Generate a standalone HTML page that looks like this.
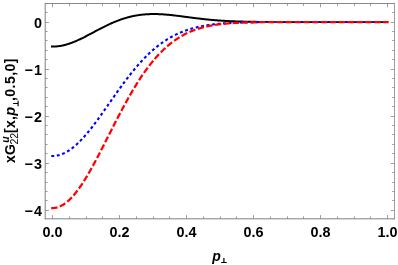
<!DOCTYPE html>
<html><head><meta charset="utf-8"><title>plot</title>
<style>html,body{margin:0;padding:0;background:#fff;overflow:hidden}svg{display:block}</style></head>
<body><svg style="will-change:transform" width="398" height="265" viewBox="0 0 398 265">
<rect x="0" y="0" width="398" height="265" fill="#fff"/>
<path d="M52.50 218.80 v-3.70 M52.50 3.50 v3.70 M69.50 218.80 v-2.40 M69.50 3.50 v2.40 M86.50 218.80 v-2.40 M86.50 3.50 v2.40 M102.50 218.80 v-2.40 M102.50 3.50 v2.40 M119.50 218.80 v-3.70 M119.50 3.50 v3.70 M136.50 218.80 v-2.40 M136.50 3.50 v2.40 M153.50 218.80 v-2.40 M153.50 3.50 v2.40 M169.50 218.80 v-2.40 M169.50 3.50 v2.40 M186.50 218.80 v-3.70 M186.50 3.50 v3.70 M203.50 218.80 v-2.40 M203.50 3.50 v2.40 M220.50 218.80 v-2.40 M220.50 3.50 v2.40 M236.50 218.80 v-2.40 M236.50 3.50 v2.40 M253.50 218.80 v-3.70 M253.50 3.50 v3.70 M270.50 218.80 v-2.40 M270.50 3.50 v2.40 M287.50 218.80 v-2.40 M287.50 3.50 v2.40 M303.50 218.80 v-2.40 M303.50 3.50 v2.40 M320.50 218.80 v-3.70 M320.50 3.50 v3.70 M337.50 218.80 v-2.40 M337.50 3.50 v2.40 M354.50 218.80 v-2.40 M354.50 3.50 v2.40 M370.50 218.80 v-2.40 M370.50 3.50 v2.40 M387.50 218.80 v-3.70 M387.50 3.50 v3.70 M45.20 210.50 h3.70 M394.50 210.50 h-3.70 M45.20 200.50 h2.40 M394.50 200.50 h-2.40 M45.20 191.50 h2.40 M394.50 191.50 h-2.40 M45.20 182.50 h2.40 M394.50 182.50 h-2.40 M45.20 172.50 h2.40 M394.50 172.50 h-2.40 M45.20 163.50 h3.70 M394.50 163.50 h-3.70 M45.20 153.50 h2.40 M394.50 153.50 h-2.40 M45.20 144.50 h2.40 M394.50 144.50 h-2.40 M45.20 134.50 h2.40 M394.50 134.50 h-2.40 M45.20 125.50 h2.40 M394.50 125.50 h-2.40 M45.20 116.50 h3.70 M394.50 116.50 h-3.70 M45.20 106.50 h2.40 M394.50 106.50 h-2.40 M45.20 97.50 h2.40 M394.50 97.50 h-2.40 M45.20 87.50 h2.40 M394.50 87.50 h-2.40 M45.20 78.50 h2.40 M394.50 78.50 h-2.40 M45.20 69.50 h3.70 M394.50 69.50 h-3.70 M45.20 59.50 h2.40 M394.50 59.50 h-2.40 M45.20 50.50 h2.40 M394.50 50.50 h-2.40 M45.20 40.50 h2.40 M394.50 40.50 h-2.40 M45.20 31.50 h2.40 M394.50 31.50 h-2.40 M45.20 22.50 h3.70 M394.50 22.50 h-3.70 M45.20 12.50 h2.40 M394.50 12.50 h-2.40 M45.20 3.50 h2.40 M394.50 3.50 h-2.40" stroke="#8c8c8c" stroke-width="0.85" fill="none"/>
<path d="M44.70 3.50 H395.00" stroke="#888" stroke-width="1" fill="none"/>
<path d="M394.50 3.50 V219.30" stroke="#9c9c9c" stroke-width="1" fill="none"/>
<path d="M45.20 3.50 V219.30" stroke="#808080" stroke-width="1" fill="none"/>
<path d="M44.70 218.80 H395.00" stroke="#808080" stroke-width="1" fill="none"/>
<defs><clipPath id="cl"><rect x="0" y="0" width="262.00" height="265"/></clipPath><clipPath id="cg"><rect x="264.74" y="18" width="4.00" height="9"/><rect x="273.59" y="18" width="4.00" height="9"/><rect x="282.44" y="18" width="4.00" height="9"/><rect x="291.29" y="18" width="4.00" height="9"/><rect x="300.14" y="18" width="4.00" height="9"/><rect x="308.99" y="18" width="4.00" height="9"/><rect x="317.84" y="18" width="4.00" height="9"/><rect x="326.69" y="18" width="4.00" height="9"/><rect x="335.54" y="18" width="4.00" height="9"/><rect x="344.39" y="18" width="4.00" height="9"/><rect x="353.24" y="18" width="4.00" height="9"/><rect x="362.09" y="18" width="4.00" height="9"/><rect x="370.94" y="18" width="4.00" height="9"/><rect x="379.79" y="18" width="4.00" height="9"/></clipPath></defs>
<g stroke="#000" stroke-width="2" fill="none" stroke-linejoin="round"><path clip-path="url(#cl)" d="M51.00 46.58 L51.50 46.58 L52.00 46.58 L52.50 46.58 L53.00 46.57 L53.50 46.57 L54.00 46.55 L54.50 46.53 L55.00 46.51 L55.50 46.48 L56.00 46.44 L56.50 46.40 L57.00 46.36 L57.50 46.31 L58.00 46.25 L58.50 46.19 L59.00 46.12 L59.50 46.05 L60.00 45.97 L60.50 45.89 L61.00 45.80 L61.50 45.71 L62.00 45.61 L62.50 45.51 L63.00 45.40 L63.50 45.29 L64.00 45.17 L64.50 45.05 L65.00 44.92 L65.50 44.79 L66.00 44.65 L66.50 44.51 L67.00 44.36 L67.50 44.21 L68.00 44.06 L68.50 43.90 L69.00 43.74 L69.50 43.57 L70.00 43.40 L70.50 43.23 L71.00 43.05 L71.50 42.86 L72.00 42.68 L72.50 42.49 L73.00 42.29 L73.50 42.09 L74.00 41.89 L74.50 41.69 L75.00 41.48 L75.50 41.27 L76.00 41.06 L76.50 40.84 L77.00 40.62 L77.50 40.40 L78.00 40.17 L78.50 39.94 L79.00 39.71 L79.50 39.48 L80.00 39.24 L80.50 39.00 L81.00 38.76 L81.50 38.52 L82.00 38.27 L82.50 38.03 L83.00 37.78 L83.50 37.53 L84.00 37.28 L84.50 37.02 L85.00 36.77 L85.50 36.51 L86.00 36.25 L86.50 35.99 L87.00 35.73 L87.50 35.47 L88.00 35.21 L88.50 34.95 L89.00 34.68 L89.50 34.42 L90.00 34.15 L90.50 33.89 L91.00 33.62 L91.50 33.35 L92.00 33.09 L92.50 32.82 L93.00 32.55 L93.50 32.29 L94.00 32.02 L94.50 31.75 L95.00 31.48 L95.50 31.22 L96.00 30.95 L96.50 30.69 L97.00 30.42 L97.50 30.16 L98.00 29.89 L98.50 29.63 L99.00 29.37 L99.50 29.11 L100.00 28.85 L100.50 28.59 L101.00 28.33 L101.50 28.07 L102.00 27.81 L102.50 27.56 L103.00 27.31 L103.50 27.05 L104.00 26.80 L104.50 26.55 L105.00 26.31 L105.50 26.06 L106.00 25.82 L106.50 25.57 L107.00 25.33 L107.50 25.09 L108.00 24.86 L108.50 24.62 L109.00 24.39 L109.50 24.16 L110.00 23.93 L110.50 23.70 L111.00 23.48 L111.50 23.25 L112.00 23.03 L112.50 22.81 L113.00 22.60 L113.50 22.39 L114.00 22.17 L114.50 21.97 L115.00 21.76 L115.50 21.55 L116.00 21.35 L116.50 21.15 L117.00 20.96 L117.50 20.76 L118.00 20.57 L118.50 20.38 L119.00 20.20 L119.50 20.02 L120.00 19.83 L120.50 19.66 L121.00 19.48 L121.50 19.31 L122.00 19.14 L122.50 18.97 L123.00 18.81 L123.50 18.65 L124.00 18.49 L124.50 18.33 L125.00 18.18 L125.50 18.03 L126.00 17.88 L126.50 17.74 L127.00 17.60 L127.50 17.46 L128.00 17.32 L128.50 17.19 L129.00 17.06 L129.50 16.93 L130.00 16.81 L130.50 16.69 L131.00 16.57 L131.50 16.45 L132.00 16.34 L132.50 16.23 L133.00 16.12 L133.50 16.02 L134.00 15.92 L134.50 15.82 L135.00 15.72 L135.50 15.63 L136.00 15.54 L136.50 15.45 L137.00 15.37 L137.50 15.29 L138.00 15.21 L138.50 15.13 L139.00 15.06 L139.50 14.99 L140.00 14.92 L140.50 14.86 L141.00 14.79 L141.50 14.73 L142.00 14.68 L142.50 14.62 L143.00 14.57 L143.50 14.52 L144.00 14.47 L144.50 14.43 L145.00 14.39 L145.50 14.35 L146.00 14.31 L146.50 14.28 L147.00 14.25 L147.50 14.22 L148.00 14.19 L148.50 14.17 L149.00 14.15 L149.50 14.13 L150.00 14.11 L150.50 14.09 L151.00 14.08 L151.50 14.07 L152.00 14.06 L152.50 14.06 L153.00 14.05 L153.50 14.05 L154.00 14.05 L154.50 14.05 L155.00 14.06 L155.50 14.06 L156.00 14.07 L156.50 14.08 L157.00 14.09 L157.50 14.11 L158.00 14.12 L158.50 14.14 L159.00 14.16 L159.50 14.18 L160.00 14.20 L160.50 14.23 L161.00 14.25 L161.50 14.28 L162.00 14.31 L162.50 14.34 L163.00 14.37 L163.50 14.41 L164.00 14.44 L164.50 14.48 L165.00 14.52 L165.50 14.56 L166.00 14.60 L166.50 14.64 L167.00 14.68 L167.50 14.73 L168.00 14.77 L168.50 14.82 L169.00 14.87 L169.50 14.92 L170.00 14.97 L170.50 15.02 L171.00 15.07 L171.50 15.12 L172.00 15.18 L172.50 15.23 L173.00 15.29 L173.50 15.34 L174.00 15.40 L174.50 15.46 L175.00 15.51 L175.50 15.57 L176.00 15.63 L176.50 15.69 L177.00 15.75 L177.50 15.82 L178.00 15.88 L178.50 15.94 L179.00 16.00 L179.50 16.07 L180.00 16.13 L180.50 16.19 L181.00 16.26 L181.50 16.32 L182.00 16.39 L182.50 16.45 L183.00 16.52 L183.50 16.58 L184.00 16.65 L184.50 16.71 L185.00 16.78 L185.50 16.84 L186.00 16.91 L186.50 16.98 L187.00 17.04 L187.50 17.11 L188.00 17.17 L188.50 17.24 L189.00 17.30 L189.50 17.37 L190.00 17.43 L190.50 17.50 L191.00 17.56 L191.50 17.63 L192.00 17.69 L192.50 17.76 L193.00 17.82 L193.50 17.89 L194.00 17.95 L194.50 18.01 L195.00 18.08 L195.50 18.14 L196.00 18.20 L196.50 18.26 L197.00 18.32 L197.50 18.38 L198.00 18.45 L198.50 18.51 L199.00 18.57 L199.50 18.62 L200.00 18.68 L200.50 18.74 L201.00 18.80 L201.50 18.86 L202.00 18.91 L202.50 18.97 L203.00 19.03 L203.50 19.08 L204.00 19.14 L204.50 19.19 L205.00 19.24 L205.50 19.30 L206.00 19.35 L206.50 19.40 L207.00 19.45 L207.50 19.50 L208.00 19.55 L208.50 19.60 L209.00 19.65 L209.50 19.70 L210.00 19.75 L210.50 19.79 L211.00 19.84 L211.50 19.89 L212.00 19.93 L212.50 19.98 L213.00 20.02 L213.50 20.06 L214.00 20.11 L214.50 20.15 L215.00 20.19 L215.50 20.23 L216.00 20.27 L216.50 20.31 L217.00 20.35 L217.50 20.39 L218.00 20.42 L218.50 20.46 L219.00 20.50 L219.50 20.53 L220.00 20.57 L220.50 20.60 L221.00 20.64 L221.50 20.67 L222.00 20.70 L222.50 20.74 L223.00 20.77 L223.50 20.80 L224.00 20.83 L224.50 20.86 L225.00 20.89 L225.50 20.92 L226.00 20.95 L226.50 20.97 L227.00 21.00 L227.50 21.03 L228.00 21.06 L228.50 21.08 L229.00 21.11 L229.50 21.13 L230.00 21.15 L230.50 21.18 L231.00 21.20 L231.50 21.22 L232.00 21.25 L232.50 21.27 L233.00 21.29 L233.50 21.31 L234.00 21.33 L234.50 21.35 L235.00 21.37 L235.50 21.39 L236.00 21.41 L236.50 21.43 L237.00 21.44 L237.50 21.46 L238.00 21.48 L238.50 21.49 L239.00 21.51 L239.50 21.53 L240.00 21.54 L240.50 21.56 L241.00 21.57 L241.50 21.58 L242.00 21.60 L242.50 21.61 L243.00 21.62 L243.50 21.64 L244.00 21.65 L244.50 21.66 L245.00 21.67 L245.50 21.69 L246.00 21.70 L246.50 21.71 L247.00 21.72 L247.50 21.73 L248.00 21.74 L248.50 21.75 L249.00 21.76 L249.50 21.77 L250.00 21.78 L250.50 21.79 L251.00 21.79 L251.50 21.80 L252.00 21.81 L252.50 21.82 L253.00 21.83 L253.50 21.83 L254.00 21.84 L254.50 21.85 L255.00 21.85 L255.50 21.86 L256.00 21.87 L256.50 21.87 L257.00 21.88 L257.50 21.89 L258.00 21.89 L258.50 21.90 L259.00 21.90 L259.50 21.91 L260.00 21.91 L260.50 21.92 L261.00 21.92 L261.50 21.93 L262.00 21.93 L262.50 21.93 L263.00 21.94 L263.50 21.94 L264.00 21.95 L264.50 21.95"/><path clip-path="url(#cg)" stroke-width="1.7" d="M250.50 21.79 L251.00 21.79 L251.50 21.80 L252.00 21.81 L252.50 21.82 L253.00 21.83 L253.50 21.83 L254.00 21.84 L254.50 21.85 L255.00 21.85 L255.50 21.86 L256.00 21.87 L256.50 21.87 L257.00 21.88 L257.50 21.89 L258.00 21.89 L258.50 21.90 L259.00 21.90 L259.50 21.91 L260.00 21.91 L260.50 21.92 L261.00 21.92 L261.50 21.93 L262.00 21.93 L262.50 21.93 L263.00 21.94 L263.50 21.94 L264.00 21.95 L264.50 21.95 L265.00 21.95 L265.50 21.96 L266.00 21.96 L266.50 21.96 L267.00 21.97 L267.50 21.97 L268.00 21.97 L268.50 21.98 L269.00 21.98 L269.50 21.98 L270.00 21.98 L270.50 21.99 L271.00 21.99 L271.50 21.99 L272.00 21.99 L272.50 22.00 L273.00 22.00 L273.50 22.00 L274.00 22.00 L274.50 22.00 L275.00 22.01 L275.50 22.01 L276.00 22.01 L276.50 22.01 L277.00 22.01 L277.50 22.01 L278.00 22.01 L278.50 22.02 L279.00 22.02 L279.50 22.02 L280.00 22.02 L280.50 22.02 L281.00 22.02 L281.50 22.02 L282.00 22.02 L282.50 22.03 L283.00 22.03 L283.50 22.03 L284.00 22.03 L284.50 22.03 L285.00 22.03 L285.50 22.03 L286.00 22.03 L286.50 22.03 L287.00 22.03 L287.50 22.03 L288.00 22.03 L288.50 22.04 L289.00 22.04 L289.50 22.04 L290.00 22.04 L290.50 22.04 L291.00 22.04 L291.50 22.04 L292.00 22.04 L292.50 22.04 L293.00 22.04 L293.50 22.04 L294.00 22.04 L294.50 22.04 L295.00 22.04 L295.50 22.04 L296.00 22.04 L296.50 22.04 L297.00 22.04 L297.50 22.04 L298.00 22.04 L298.50 22.04 L299.00 22.04 L299.50 22.04 L300.00 22.04 L300.50 22.05 L301.00 22.05 L301.50 22.05 L302.00 22.05 L302.50 22.05 L303.00 22.05 L303.50 22.05 L304.00 22.05 L304.50 22.05 L305.00 22.05 L305.50 22.05 L306.00 22.05 L306.50 22.05 L307.00 22.05 L307.50 22.05 L308.00 22.05 L308.50 22.05 L309.00 22.05 L309.50 22.05 L310.00 22.05 L310.50 22.05 L311.00 22.05 L311.50 22.05 L312.00 22.05 L312.50 22.05 L313.00 22.05 L313.50 22.05 L314.00 22.05 L314.50 22.05 L315.00 22.05 L315.50 22.05 L316.00 22.05 L316.50 22.05 L317.00 22.05 L317.50 22.05 L318.00 22.05 L318.50 22.05 L319.00 22.05 L319.50 22.05 L320.00 22.05 L320.50 22.05 L321.00 22.05 L321.50 22.05 L322.00 22.05 L322.50 22.05 L323.00 22.05 L323.50 22.05 L324.00 22.05 L324.50 22.05 L325.00 22.05 L325.50 22.05 L326.00 22.05 L326.50 22.05 L327.00 22.05 L327.50 22.05 L328.00 22.05 L328.50 22.05 L329.00 22.05 L329.50 22.05 L330.00 22.05 L330.50 22.05 L331.00 22.05 L331.50 22.05 L332.00 22.05 L332.50 22.05 L333.00 22.05 L333.50 22.05 L334.00 22.05 L334.50 22.05 L335.00 22.05 L335.50 22.05 L336.00 22.05 L336.50 22.05 L337.00 22.05 L337.50 22.05 L338.00 22.05 L338.50 22.05 L339.00 22.05 L339.50 22.05 L340.00 22.05 L340.50 22.05 L341.00 22.05 L341.50 22.05 L342.00 22.05 L342.50 22.05 L343.00 22.05 L343.50 22.05 L344.00 22.05 L344.50 22.05 L345.00 22.05 L345.50 22.05 L346.00 22.05 L346.50 22.05 L347.00 22.05 L347.50 22.05 L348.00 22.05 L348.50 22.05 L349.00 22.05 L349.50 22.05 L350.00 22.05 L350.50 22.05 L351.00 22.05 L351.50 22.05 L352.00 22.05 L352.50 22.05 L353.00 22.05 L353.50 22.05 L354.00 22.05 L354.50 22.05 L355.00 22.05 L355.50 22.05 L356.00 22.05 L356.50 22.05 L357.00 22.05 L357.50 22.05 L358.00 22.05 L358.50 22.05 L359.00 22.05 L359.50 22.05 L360.00 22.05 L360.50 22.05 L361.00 22.05 L361.50 22.05 L362.00 22.05 L362.50 22.05 L363.00 22.05 L363.50 22.05 L364.00 22.05 L364.50 22.05 L365.00 22.05 L365.50 22.05 L366.00 22.05 L366.50 22.05 L367.00 22.05 L367.50 22.05 L368.00 22.05 L368.50 22.05 L369.00 22.05 L369.50 22.05 L370.00 22.05 L370.50 22.05 L371.00 22.05 L371.50 22.05 L372.00 22.05 L372.50 22.05 L373.00 22.05 L373.50 22.05 L374.00 22.05 L374.50 22.05 L375.00 22.05 L375.50 22.05 L376.00 22.05 L376.50 22.05 L377.00 22.05 L377.50 22.05 L378.00 22.05 L378.50 22.05 L379.00 22.05 L379.50 22.05 L380.00 22.05 L380.50 22.05 L381.00 22.05 L381.50 22.05 L382.00 22.05 L382.50 22.05 L383.00 22.05 L383.50 22.05 L384.00 22.05 L384.50 22.05 L385.00 22.05 L385.50 22.05 L386.00 22.05 L386.50 22.05 L387.00 22.05 L387.50 22.05 L388.00 22.05 L388.50 22.05 L389.00 22.05"/></g>
<g stroke="#00f" stroke-width="2.1" fill="none" stroke-linejoin="round" stroke-dasharray="2.9 2.63"><path clip-path="url(#cl)" d="M51.30 155.97 L51.80 155.97 L52.30 155.97 L52.80 155.97 L53.30 155.96 L53.80 155.94 L54.30 155.91 L54.80 155.86 L55.30 155.81 L55.80 155.75 L56.30 155.67 L56.80 155.59 L57.30 155.50 L57.80 155.39 L58.30 155.28 L58.80 155.15 L59.30 155.02 L59.80 154.87 L60.30 154.72 L60.80 154.55 L61.30 154.38 L61.80 154.19 L62.30 154.00 L62.80 153.79 L63.30 153.58 L63.80 153.35 L64.30 153.12 L64.80 152.88 L65.30 152.62 L65.80 152.36 L66.30 152.09 L66.80 151.80 L67.30 151.51 L67.80 151.21 L68.30 150.90 L68.80 150.58 L69.30 150.25 L69.80 149.91 L70.30 149.57 L70.80 149.21 L71.30 148.85 L71.80 148.47 L72.30 148.09 L72.80 147.70 L73.30 147.30 L73.80 146.90 L74.30 146.48 L74.80 146.06 L75.30 145.62 L75.80 145.18 L76.30 144.74 L76.80 144.28 L77.30 143.82 L77.80 143.35 L78.30 142.87 L78.80 142.38 L79.30 141.89 L79.80 141.39 L80.30 140.88 L80.80 140.36 L81.30 139.84 L81.80 139.31 L82.30 138.78 L82.80 138.24 L83.30 137.69 L83.80 137.13 L84.30 136.57 L84.80 136.01 L85.30 135.43 L85.80 134.85 L86.30 134.27 L86.80 133.68 L87.30 133.08 L87.80 132.48 L88.30 131.88 L88.80 131.27 L89.30 130.65 L89.80 130.03 L90.30 129.40 L90.80 128.77 L91.30 128.13 L91.80 127.49 L92.30 126.85 L92.80 126.20 L93.30 125.55 L93.80 124.89 L94.30 124.23 L94.80 123.57 L95.30 122.90 L95.80 122.23 L96.30 121.56 L96.80 120.88 L97.30 120.20 L97.80 119.52 L98.30 118.83 L98.80 118.14 L99.30 117.45 L99.80 116.76 L100.30 116.06 L100.80 115.37 L101.30 114.67 L101.80 113.97 L102.30 113.26 L102.80 112.56 L103.30 111.85 L103.80 111.14 L104.30 110.43 L104.80 109.72 L105.30 109.01 L105.80 108.30 L106.30 107.58 L106.80 106.87 L107.30 106.16 L107.80 105.44 L108.30 104.72 L108.80 104.01 L109.30 103.29 L109.80 102.58 L110.30 101.86 L110.80 101.15 L111.30 100.43 L111.80 99.71 L112.30 99.00 L112.80 98.29 L113.30 97.57 L113.80 96.86 L114.30 96.15 L114.80 95.44 L115.30 94.73 L115.80 94.02 L116.30 93.32 L116.80 92.61 L117.30 91.91 L117.80 91.20 L118.30 90.50 L118.80 89.81 L119.30 89.11 L119.80 88.41 L120.30 87.72 L120.80 87.03 L121.30 86.34 L121.80 85.66 L122.30 84.97 L122.80 84.29 L123.30 83.61 L123.80 82.94 L124.30 82.26 L124.80 81.59 L125.30 80.93 L125.80 80.26 L126.30 79.60 L126.80 78.94 L127.30 78.29 L127.80 77.63 L128.30 76.99 L128.80 76.34 L129.30 75.70 L129.80 75.06 L130.30 74.42 L130.80 73.79 L131.30 73.16 L131.80 72.54 L132.30 71.92 L132.80 71.30 L133.30 70.69 L133.80 70.08 L134.30 69.47 L134.80 68.87 L135.30 68.28 L135.80 67.68 L136.30 67.09 L136.80 66.51 L137.30 65.93 L137.80 65.35 L138.30 64.78 L138.80 64.21 L139.30 63.65 L139.80 63.09 L140.30 62.53 L140.80 61.98 L141.30 61.43 L141.80 60.89 L142.30 60.36 L142.80 59.82 L143.30 59.29 L143.80 58.77 L144.30 58.25 L144.80 57.74 L145.30 57.23 L145.80 56.72 L146.30 56.22 L146.80 55.72 L147.30 55.23 L147.80 54.74 L148.30 54.26 L148.80 53.78 L149.30 53.31 L149.80 52.84 L150.30 52.38 L150.80 51.92 L151.30 51.46 L151.80 51.01 L152.30 50.57 L152.80 50.12 L153.30 49.69 L153.80 49.26 L154.30 48.83 L154.80 48.41 L155.30 47.99 L155.80 47.58 L156.30 47.17 L156.80 46.77 L157.30 46.37 L157.80 45.97 L158.30 45.58 L158.80 45.20 L159.30 44.81 L159.80 44.44 L160.30 44.07 L160.80 43.70 L161.30 43.34 L161.80 42.98 L162.30 42.62 L162.80 42.27 L163.30 41.93 L163.80 41.59 L164.30 41.25 L164.80 40.92 L165.30 40.59 L165.80 40.27 L166.30 39.95 L166.80 39.63 L167.30 39.32 L167.80 39.01 L168.30 38.71 L168.80 38.41 L169.30 38.12 L169.80 37.83 L170.30 37.54 L170.80 37.26 L171.30 36.98 L171.80 36.71 L172.30 36.43 L172.80 36.17 L173.30 35.91 L173.80 35.65 L174.30 35.39 L174.80 35.14 L175.30 34.89 L175.80 34.65 L176.30 34.41 L176.80 34.17 L177.30 33.94 L177.80 33.71 L178.30 33.48 L178.80 33.26 L179.30 33.04 L179.80 32.82 L180.30 32.61 L180.80 32.40 L181.30 32.20 L181.80 31.99 L182.30 31.80 L182.80 31.60 L183.30 31.41 L183.80 31.22 L184.30 31.03 L184.80 30.85 L185.30 30.67 L185.80 30.49 L186.30 30.32 L186.80 30.14 L187.30 29.98 L187.80 29.81 L188.30 29.65 L188.80 29.49 L189.30 29.33 L189.80 29.18 L190.30 29.02 L190.80 28.88 L191.30 28.73 L191.80 28.58 L192.30 28.44 L192.80 28.30 L193.30 28.17 L193.80 28.03 L194.30 27.90 L194.80 27.77 L195.30 27.65 L195.80 27.52 L196.30 27.40 L196.80 27.28 L197.30 27.16 L197.80 27.05 L198.30 26.94 L198.80 26.83 L199.30 26.72 L199.80 26.61 L200.30 26.50 L200.80 26.40 L201.30 26.30 L201.80 26.20 L202.30 26.11 L202.80 26.01 L203.30 25.92 L203.80 25.83 L204.30 25.74 L204.80 25.65 L205.30 25.56 L205.80 25.48 L206.30 25.40 L206.80 25.32 L207.30 25.24 L207.80 25.16 L208.30 25.08 L208.80 25.01 L209.30 24.94 L209.80 24.86 L210.30 24.79 L210.80 24.73 L211.30 24.66 L211.80 24.59 L212.30 24.53 L212.80 24.47 L213.30 24.41 L213.80 24.35 L214.30 24.29 L214.80 24.23 L215.30 24.17 L215.80 24.12 L216.30 24.06 L216.80 24.01 L217.30 23.96 L217.80 23.91 L218.30 23.86 L218.80 23.81 L219.30 23.76 L219.80 23.72 L220.30 23.67 L220.80 23.63 L221.30 23.58 L221.80 23.54 L222.30 23.50 L222.80 23.46 L223.30 23.42 L223.80 23.38 L224.30 23.35 L224.80 23.31 L225.30 23.27 L225.80 23.24 L226.30 23.20 L226.80 23.17 L227.30 23.14 L227.80 23.11 L228.30 23.07 L228.80 23.04 L229.30 23.01 L229.80 22.98 L230.30 22.96 L230.80 22.93 L231.30 22.90 L231.80 22.88 L232.30 22.85 L232.80 22.83 L233.30 22.80 L233.80 22.78 L234.30 22.75 L234.80 22.73 L235.30 22.71 L235.80 22.69 L236.30 22.67 L236.80 22.65 L237.30 22.63 L237.80 22.61 L238.30 22.59 L238.80 22.57 L239.30 22.55 L239.80 22.53 L240.30 22.52 L240.80 22.50 L241.30 22.48 L241.80 22.47 L242.30 22.45 L242.80 22.44 L243.30 22.42 L243.80 22.41 L244.30 22.39 L244.80 22.38 L245.30 22.37 L245.80 22.35 L246.30 22.34 L246.80 22.33 L247.30 22.32 L247.80 22.31 L248.30 22.30 L248.80 22.29 L249.30 22.27 L249.80 22.26 L250.30 22.25 L250.80 22.24 L251.30 22.24 L251.80 22.23 L252.30 22.22 L252.80 22.21 L253.30 22.20 L253.80 22.19 L254.30 22.18 L254.80 22.18 L255.30 22.17 L255.80 22.16 L256.30 22.16 L256.80 22.15 L257.30 22.14 L257.80 22.14 L258.30 22.13 L258.80 22.12 L259.30 22.12 L259.80 22.11 L260.30 22.11 L260.80 22.10 L261.30 22.10 L261.80 22.09 L262.30 22.09 L262.80 22.08 L263.30 22.08 L263.80 22.07 L264.30 22.07 L264.80 22.06 L265.30 22.06 L265.80 22.06 L266.30 22.05 L266.80 22.05 L267.30 22.05 L267.80 22.04 L268.30 22.04 L268.80 22.04 L269.30 22.03 L269.80 22.03 L270.30 22.03 L270.80 22.03 L271.30 22.02 L271.80 22.02 L272.30 22.02 L272.80 22.02 L273.30 22.01 L273.80 22.01 L274.30 22.01 L274.80 22.01 L275.30 22.01 L275.80 22.00 L276.30 22.00 L276.80 22.00 L277.30 22.00 L277.80 22.00 L278.30 22.00 L278.80 22.00 L279.30 21.99 L279.80 21.99 L280.30 21.99 L280.80 21.99 L281.30 21.99 L281.80 21.99 L282.30 21.99 L282.80 21.99 L283.30 21.99 L283.80 21.99 L284.30 21.99 L284.80 21.98 L285.30 21.98 L285.80 21.98 L286.30 21.98 L286.80 21.98 L287.30 21.98 L287.80 21.98 L288.30 21.98 L288.80 21.98 L289.30 21.98 L289.80 21.98 L290.30 21.98 L290.80 21.98 L291.30 21.98 L291.80 21.98 L292.30 21.98 L292.80 21.98 L293.30 21.98 L293.80 21.98 L294.30 21.98 L294.80 21.98 L295.30 21.98 L295.80 21.98 L296.30 21.98 L296.80 21.98 L297.30 21.98 L297.80 21.98 L298.30 21.98 L298.80 21.98 L299.30 21.98 L299.80 21.98 L300.30 21.98 L300.80 21.98 L301.30 21.98 L301.80 21.98 L302.30 21.98 L302.80 21.98 L303.30 21.98 L303.80 21.99 L304.30 21.99 L304.80 21.99 L305.30 21.99 L305.80 21.99 L306.30 21.99 L306.80 21.99 L307.30 21.99 L307.80 21.99 L308.30 21.99 L308.80 21.99 L309.30 21.99 L309.80 21.99 L310.30 21.99 L310.80 21.99 L311.30 21.99 L311.80 21.99 L312.30 21.99 L312.80 21.99 L313.30 21.99 L313.80 21.99 L314.30 22.00 L314.80 22.00 L315.30 22.00 L315.80 22.00 L316.30 22.00 L316.80 22.00 L317.30 22.00 L317.80 22.00 L318.30 22.00 L318.80 22.00 L319.30 22.00 L319.80 22.00 L320.30 22.00 L320.80 22.00 L321.30 22.00 L321.80 22.00 L322.30 22.00 L322.80 22.01 L323.30 22.01 L323.80 22.01 L324.30 22.01 L324.80 22.01 L325.30 22.01 L325.80 22.01 L326.30 22.01 L326.80 22.01 L327.30 22.01 L327.80 22.01 L328.30 22.01 L328.80 22.01 L329.30 22.01 L329.80 22.01 L330.30 22.01 L330.80 22.01 L331.30 22.01 L331.80 22.01 L332.30 22.02 L332.80 22.02 L333.30 22.02 L333.80 22.02 L334.30 22.02 L334.80 22.02 L335.30 22.02 L335.80 22.02 L336.30 22.02 L336.80 22.02 L337.30 22.02 L337.80 22.02 L338.30 22.02 L338.80 22.02 L339.30 22.02 L339.80 22.02 L340.30 22.02 L340.80 22.02 L341.30 22.02 L341.80 22.02 L342.30 22.02 L342.80 22.03 L343.30 22.03 L343.80 22.03 L344.30 22.03 L344.80 22.03 L345.30 22.03 L345.80 22.03 L346.30 22.03 L346.80 22.03 L347.30 22.03 L347.80 22.03 L348.30 22.03 L348.80 22.03 L349.30 22.03 L349.80 22.03 L350.30 22.03 L350.80 22.03 L351.30 22.03 L351.80 22.03 L352.30 22.03 L352.80 22.03 L353.30 22.03 L353.80 22.03 L354.30 22.03 L354.80 22.03 L355.30 22.03 L355.80 22.03 L356.30 22.03 L356.80 22.04 L357.30 22.04 L357.80 22.04 L358.30 22.04 L358.80 22.04 L359.30 22.04 L359.80 22.04 L360.30 22.04 L360.80 22.04 L361.30 22.04 L361.80 22.04 L362.30 22.04 L362.80 22.04 L363.30 22.04 L363.80 22.04 L364.30 22.04 L364.80 22.04 L365.30 22.04 L365.80 22.04 L366.30 22.04 L366.80 22.04 L367.30 22.04 L367.80 22.04 L368.30 22.04 L368.80 22.04 L369.30 22.04 L369.80 22.04 L370.30 22.04 L370.80 22.04 L371.30 22.04 L371.80 22.04 L372.30 22.04 L372.80 22.04 L373.30 22.04 L373.80 22.04 L374.30 22.04 L374.80 22.04 L375.30 22.04 L375.80 22.04 L376.30 22.04 L376.80 22.04 L377.30 22.04 L377.80 22.04 L378.30 22.04 L378.80 22.04 L379.30 22.04 L379.80 22.04 L380.30 22.04 L380.80 22.04 L381.30 22.04 L381.80 22.05 L382.30 22.05 L382.80 22.05 L383.30 22.05 L383.80 22.05 L384.30 22.05 L384.80 22.05 L385.30 22.05 L385.80 22.05 L386.30 22.05 L386.80 22.05 L387.30 22.05 L387.80 22.05 L388.30 22.05 L388.80 22.05"/><path clip-path="url(#cg)" stroke-width="1.7" d="M51.30 155.97 L51.80 155.97 L52.30 155.97 L52.80 155.97 L53.30 155.96 L53.80 155.94 L54.30 155.91 L54.80 155.86 L55.30 155.81 L55.80 155.75 L56.30 155.67 L56.80 155.59 L57.30 155.50 L57.80 155.39 L58.30 155.28 L58.80 155.15 L59.30 155.02 L59.80 154.87 L60.30 154.72 L60.80 154.55 L61.30 154.38 L61.80 154.19 L62.30 154.00 L62.80 153.79 L63.30 153.58 L63.80 153.35 L64.30 153.12 L64.80 152.88 L65.30 152.62 L65.80 152.36 L66.30 152.09 L66.80 151.80 L67.30 151.51 L67.80 151.21 L68.30 150.90 L68.80 150.58 L69.30 150.25 L69.80 149.91 L70.30 149.57 L70.80 149.21 L71.30 148.85 L71.80 148.47 L72.30 148.09 L72.80 147.70 L73.30 147.30 L73.80 146.90 L74.30 146.48 L74.80 146.06 L75.30 145.62 L75.80 145.18 L76.30 144.74 L76.80 144.28 L77.30 143.82 L77.80 143.35 L78.30 142.87 L78.80 142.38 L79.30 141.89 L79.80 141.39 L80.30 140.88 L80.80 140.36 L81.30 139.84 L81.80 139.31 L82.30 138.78 L82.80 138.24 L83.30 137.69 L83.80 137.13 L84.30 136.57 L84.80 136.01 L85.30 135.43 L85.80 134.85 L86.30 134.27 L86.80 133.68 L87.30 133.08 L87.80 132.48 L88.30 131.88 L88.80 131.27 L89.30 130.65 L89.80 130.03 L90.30 129.40 L90.80 128.77 L91.30 128.13 L91.80 127.49 L92.30 126.85 L92.80 126.20 L93.30 125.55 L93.80 124.89 L94.30 124.23 L94.80 123.57 L95.30 122.90 L95.80 122.23 L96.30 121.56 L96.80 120.88 L97.30 120.20 L97.80 119.52 L98.30 118.83 L98.80 118.14 L99.30 117.45 L99.80 116.76 L100.30 116.06 L100.80 115.37 L101.30 114.67 L101.80 113.97 L102.30 113.26 L102.80 112.56 L103.30 111.85 L103.80 111.14 L104.30 110.43 L104.80 109.72 L105.30 109.01 L105.80 108.30 L106.30 107.58 L106.80 106.87 L107.30 106.16 L107.80 105.44 L108.30 104.72 L108.80 104.01 L109.30 103.29 L109.80 102.58 L110.30 101.86 L110.80 101.15 L111.30 100.43 L111.80 99.71 L112.30 99.00 L112.80 98.29 L113.30 97.57 L113.80 96.86 L114.30 96.15 L114.80 95.44 L115.30 94.73 L115.80 94.02 L116.30 93.32 L116.80 92.61 L117.30 91.91 L117.80 91.20 L118.30 90.50 L118.80 89.81 L119.30 89.11 L119.80 88.41 L120.30 87.72 L120.80 87.03 L121.30 86.34 L121.80 85.66 L122.30 84.97 L122.80 84.29 L123.30 83.61 L123.80 82.94 L124.30 82.26 L124.80 81.59 L125.30 80.93 L125.80 80.26 L126.30 79.60 L126.80 78.94 L127.30 78.29 L127.80 77.63 L128.30 76.99 L128.80 76.34 L129.30 75.70 L129.80 75.06 L130.30 74.42 L130.80 73.79 L131.30 73.16 L131.80 72.54 L132.30 71.92 L132.80 71.30 L133.30 70.69 L133.80 70.08 L134.30 69.47 L134.80 68.87 L135.30 68.28 L135.80 67.68 L136.30 67.09 L136.80 66.51 L137.30 65.93 L137.80 65.35 L138.30 64.78 L138.80 64.21 L139.30 63.65 L139.80 63.09 L140.30 62.53 L140.80 61.98 L141.30 61.43 L141.80 60.89 L142.30 60.36 L142.80 59.82 L143.30 59.29 L143.80 58.77 L144.30 58.25 L144.80 57.74 L145.30 57.23 L145.80 56.72 L146.30 56.22 L146.80 55.72 L147.30 55.23 L147.80 54.74 L148.30 54.26 L148.80 53.78 L149.30 53.31 L149.80 52.84 L150.30 52.38 L150.80 51.92 L151.30 51.46 L151.80 51.01 L152.30 50.57 L152.80 50.12 L153.30 49.69 L153.80 49.26 L154.30 48.83 L154.80 48.41 L155.30 47.99 L155.80 47.58 L156.30 47.17 L156.80 46.77 L157.30 46.37 L157.80 45.97 L158.30 45.58 L158.80 45.20 L159.30 44.81 L159.80 44.44 L160.30 44.07 L160.80 43.70 L161.30 43.34 L161.80 42.98 L162.30 42.62 L162.80 42.27 L163.30 41.93 L163.80 41.59 L164.30 41.25 L164.80 40.92 L165.30 40.59 L165.80 40.27 L166.30 39.95 L166.80 39.63 L167.30 39.32 L167.80 39.01 L168.30 38.71 L168.80 38.41 L169.30 38.12 L169.80 37.83 L170.30 37.54 L170.80 37.26 L171.30 36.98 L171.80 36.71 L172.30 36.43 L172.80 36.17 L173.30 35.91 L173.80 35.65 L174.30 35.39 L174.80 35.14 L175.30 34.89 L175.80 34.65 L176.30 34.41 L176.80 34.17 L177.30 33.94 L177.80 33.71 L178.30 33.48 L178.80 33.26 L179.30 33.04 L179.80 32.82 L180.30 32.61 L180.80 32.40 L181.30 32.20 L181.80 31.99 L182.30 31.80 L182.80 31.60 L183.30 31.41 L183.80 31.22 L184.30 31.03 L184.80 30.85 L185.30 30.67 L185.80 30.49 L186.30 30.32 L186.80 30.14 L187.30 29.98 L187.80 29.81 L188.30 29.65 L188.80 29.49 L189.30 29.33 L189.80 29.18 L190.30 29.02 L190.80 28.88 L191.30 28.73 L191.80 28.58 L192.30 28.44 L192.80 28.30 L193.30 28.17 L193.80 28.03 L194.30 27.90 L194.80 27.77 L195.30 27.65 L195.80 27.52 L196.30 27.40 L196.80 27.28 L197.30 27.16 L197.80 27.05 L198.30 26.94 L198.80 26.83 L199.30 26.72 L199.80 26.61 L200.30 26.50 L200.80 26.40 L201.30 26.30 L201.80 26.20 L202.30 26.11 L202.80 26.01 L203.30 25.92 L203.80 25.83 L204.30 25.74 L204.80 25.65 L205.30 25.56 L205.80 25.48 L206.30 25.40 L206.80 25.32 L207.30 25.24 L207.80 25.16 L208.30 25.08 L208.80 25.01 L209.30 24.94 L209.80 24.86 L210.30 24.79 L210.80 24.73 L211.30 24.66 L211.80 24.59 L212.30 24.53 L212.80 24.47 L213.30 24.41 L213.80 24.35 L214.30 24.29 L214.80 24.23 L215.30 24.17 L215.80 24.12 L216.30 24.06 L216.80 24.01 L217.30 23.96 L217.80 23.91 L218.30 23.86 L218.80 23.81 L219.30 23.76 L219.80 23.72 L220.30 23.67 L220.80 23.63 L221.30 23.58 L221.80 23.54 L222.30 23.50 L222.80 23.46 L223.30 23.42 L223.80 23.38 L224.30 23.35 L224.80 23.31 L225.30 23.27 L225.80 23.24 L226.30 23.20 L226.80 23.17 L227.30 23.14 L227.80 23.11 L228.30 23.07 L228.80 23.04 L229.30 23.01 L229.80 22.98 L230.30 22.96 L230.80 22.93 L231.30 22.90 L231.80 22.88 L232.30 22.85 L232.80 22.83 L233.30 22.80 L233.80 22.78 L234.30 22.75 L234.80 22.73 L235.30 22.71 L235.80 22.69 L236.30 22.67 L236.80 22.65 L237.30 22.63 L237.80 22.61 L238.30 22.59 L238.80 22.57 L239.30 22.55 L239.80 22.53 L240.30 22.52 L240.80 22.50 L241.30 22.48 L241.80 22.47 L242.30 22.45 L242.80 22.44 L243.30 22.42 L243.80 22.41 L244.30 22.39 L244.80 22.38 L245.30 22.37 L245.80 22.35 L246.30 22.34 L246.80 22.33 L247.30 22.32 L247.80 22.31 L248.30 22.30 L248.80 22.29 L249.30 22.27 L249.80 22.26 L250.30 22.25 L250.80 22.24 L251.30 22.24 L251.80 22.23 L252.30 22.22 L252.80 22.21 L253.30 22.20 L253.80 22.19 L254.30 22.18 L254.80 22.18 L255.30 22.17 L255.80 22.16 L256.30 22.16 L256.80 22.15 L257.30 22.14 L257.80 22.14 L258.30 22.13 L258.80 22.12 L259.30 22.12 L259.80 22.11 L260.30 22.11 L260.80 22.10 L261.30 22.10 L261.80 22.09 L262.30 22.09 L262.80 22.08 L263.30 22.08 L263.80 22.07 L264.30 22.07 L264.80 22.06 L265.30 22.06 L265.80 22.06 L266.30 22.05 L266.80 22.05 L267.30 22.05 L267.80 22.04 L268.30 22.04 L268.80 22.04 L269.30 22.03 L269.80 22.03 L270.30 22.03 L270.80 22.03 L271.30 22.02 L271.80 22.02 L272.30 22.02 L272.80 22.02 L273.30 22.01 L273.80 22.01 L274.30 22.01 L274.80 22.01 L275.30 22.01 L275.80 22.00 L276.30 22.00 L276.80 22.00 L277.30 22.00 L277.80 22.00 L278.30 22.00 L278.80 22.00 L279.30 21.99 L279.80 21.99 L280.30 21.99 L280.80 21.99 L281.30 21.99 L281.80 21.99 L282.30 21.99 L282.80 21.99 L283.30 21.99 L283.80 21.99 L284.30 21.99 L284.80 21.98 L285.30 21.98 L285.80 21.98 L286.30 21.98 L286.80 21.98 L287.30 21.98 L287.80 21.98 L288.30 21.98 L288.80 21.98 L289.30 21.98 L289.80 21.98 L290.30 21.98 L290.80 21.98 L291.30 21.98 L291.80 21.98 L292.30 21.98 L292.80 21.98 L293.30 21.98 L293.80 21.98 L294.30 21.98 L294.80 21.98 L295.30 21.98 L295.80 21.98 L296.30 21.98 L296.80 21.98 L297.30 21.98 L297.80 21.98 L298.30 21.98 L298.80 21.98 L299.30 21.98 L299.80 21.98 L300.30 21.98 L300.80 21.98 L301.30 21.98 L301.80 21.98 L302.30 21.98 L302.80 21.98 L303.30 21.98 L303.80 21.99 L304.30 21.99 L304.80 21.99 L305.30 21.99 L305.80 21.99 L306.30 21.99 L306.80 21.99 L307.30 21.99 L307.80 21.99 L308.30 21.99 L308.80 21.99 L309.30 21.99 L309.80 21.99 L310.30 21.99 L310.80 21.99 L311.30 21.99 L311.80 21.99 L312.30 21.99 L312.80 21.99 L313.30 21.99 L313.80 21.99 L314.30 22.00 L314.80 22.00 L315.30 22.00 L315.80 22.00 L316.30 22.00 L316.80 22.00 L317.30 22.00 L317.80 22.00 L318.30 22.00 L318.80 22.00 L319.30 22.00 L319.80 22.00 L320.30 22.00 L320.80 22.00 L321.30 22.00 L321.80 22.00 L322.30 22.00 L322.80 22.01 L323.30 22.01 L323.80 22.01 L324.30 22.01 L324.80 22.01 L325.30 22.01 L325.80 22.01 L326.30 22.01 L326.80 22.01 L327.30 22.01 L327.80 22.01 L328.30 22.01 L328.80 22.01 L329.30 22.01 L329.80 22.01 L330.30 22.01 L330.80 22.01 L331.30 22.01 L331.80 22.01 L332.30 22.02 L332.80 22.02 L333.30 22.02 L333.80 22.02 L334.30 22.02 L334.80 22.02 L335.30 22.02 L335.80 22.02 L336.30 22.02 L336.80 22.02 L337.30 22.02 L337.80 22.02 L338.30 22.02 L338.80 22.02 L339.30 22.02 L339.80 22.02 L340.30 22.02 L340.80 22.02 L341.30 22.02 L341.80 22.02 L342.30 22.02 L342.80 22.03 L343.30 22.03 L343.80 22.03 L344.30 22.03 L344.80 22.03 L345.30 22.03 L345.80 22.03 L346.30 22.03 L346.80 22.03 L347.30 22.03 L347.80 22.03 L348.30 22.03 L348.80 22.03 L349.30 22.03 L349.80 22.03 L350.30 22.03 L350.80 22.03 L351.30 22.03 L351.80 22.03 L352.30 22.03 L352.80 22.03 L353.30 22.03 L353.80 22.03 L354.30 22.03 L354.80 22.03 L355.30 22.03 L355.80 22.03 L356.30 22.03 L356.80 22.04 L357.30 22.04 L357.80 22.04 L358.30 22.04 L358.80 22.04 L359.30 22.04 L359.80 22.04 L360.30 22.04 L360.80 22.04 L361.30 22.04 L361.80 22.04 L362.30 22.04 L362.80 22.04 L363.30 22.04 L363.80 22.04 L364.30 22.04 L364.80 22.04 L365.30 22.04 L365.80 22.04 L366.30 22.04 L366.80 22.04 L367.30 22.04 L367.80 22.04 L368.30 22.04 L368.80 22.04 L369.30 22.04 L369.80 22.04 L370.30 22.04 L370.80 22.04 L371.30 22.04 L371.80 22.04 L372.30 22.04 L372.80 22.04 L373.30 22.04 L373.80 22.04 L374.30 22.04 L374.80 22.04 L375.30 22.04 L375.80 22.04 L376.30 22.04 L376.80 22.04 L377.30 22.04 L377.80 22.04 L378.30 22.04 L378.80 22.04 L379.30 22.04 L379.80 22.04 L380.30 22.04 L380.80 22.04 L381.30 22.04 L381.80 22.05 L382.30 22.05 L382.80 22.05 L383.30 22.05 L383.80 22.05 L384.30 22.05 L384.80 22.05 L385.30 22.05 L385.80 22.05 L386.30 22.05 L386.80 22.05 L387.30 22.05 L387.80 22.05 L388.30 22.05 L388.80 22.05"/></g>
<path d="M51.20 208.06 L51.70 208.06 L52.20 208.06 L52.70 208.06 L53.20 208.05 L53.70 208.02 L54.20 207.97 L54.70 207.92 L55.20 207.84 L55.70 207.76 L56.20 207.65 L56.70 207.54 L57.20 207.41 L57.70 207.26 L58.20 207.10 L58.70 206.92 L59.20 206.73 L59.70 206.53 L60.20 206.31 L60.70 206.08 L61.20 205.83 L61.70 205.57 L62.20 205.29 L62.70 205.00 L63.20 204.70 L63.70 204.38 L64.20 204.05 L64.70 203.70 L65.20 203.34 L65.70 202.97 L66.20 202.58 L66.70 202.18 L67.20 201.77 L67.70 201.34 L68.20 200.90 L68.70 200.45 L69.20 199.98 L69.70 199.50 L70.20 199.01 L70.70 198.51 L71.20 197.99 L71.70 197.46 L72.20 196.92 L72.70 196.37 L73.20 195.80 L73.70 195.23 L74.20 194.64 L74.70 194.04 L75.20 193.43 L75.70 192.80 L76.20 192.17 L76.70 191.53 L77.20 190.87 L77.70 190.21 L78.20 189.53 L78.70 188.84 L79.20 188.15 L79.70 187.44 L80.20 186.73 L80.70 186.00 L81.20 185.27 L81.70 184.52 L82.20 183.77 L82.70 183.00 L83.20 182.23 L83.70 181.45 L84.20 180.66 L84.70 179.87 L85.20 179.06 L85.70 178.25 L86.20 177.43 L86.70 176.60 L87.20 175.77 L87.70 174.92 L88.20 174.07 L88.70 173.22 L89.20 172.35 L89.70 171.48 L90.20 170.61 L90.70 169.73 L91.20 168.84 L91.70 167.94 L92.20 167.04 L92.70 166.14 L93.20 165.23 L93.70 164.31 L94.20 163.39 L94.70 162.47 L95.20 161.54 L95.70 160.61 L96.20 159.67 L96.70 158.73 L97.20 157.78 L97.70 156.83 L98.20 155.88 L98.70 154.92 L99.20 153.96 L99.70 153.00 L100.20 152.04 L100.70 151.07 L101.20 150.10 L101.70 149.13 L102.20 148.15 L102.70 147.18 L103.20 146.20 L103.70 145.22 L104.20 144.24 L104.70 143.26 L105.20 142.27 L105.70 141.29 L106.20 140.30 L106.70 139.32 L107.20 138.33 L107.70 137.35 L108.20 136.36 L108.70 135.37 L109.20 134.39 L109.70 133.40 L110.20 132.42 L110.70 131.43 L111.20 130.45 L111.70 129.46 L112.20 128.48 L112.70 127.50 L113.20 126.52 L113.70 125.54 L114.20 124.56 L114.70 123.59 L115.20 122.61 L115.70 121.64 L116.20 120.67 L116.70 119.70 L117.20 118.74 L117.70 117.77 L118.20 116.81 L118.70 115.86 L119.20 114.90 L119.70 113.95 L120.20 113.00 L120.70 112.05 L121.20 111.11 L121.70 110.17 L122.20 109.24 L122.70 108.30 L123.20 107.37 L123.70 106.45 L124.20 105.53 L124.70 104.61 L125.20 103.69 L125.70 102.78 L126.20 101.88 L126.70 100.98 L127.20 100.08 L127.70 99.19 L128.20 98.30 L128.70 97.42 L129.20 96.54 L129.70 95.66 L130.20 94.79 L130.70 93.93 L131.20 93.07 L131.70 92.21 L132.20 91.36 L132.70 90.52 L133.20 89.68 L133.70 88.84 L134.20 88.01 L134.70 87.19 L135.20 86.37 L135.70 85.56 L136.20 84.75 L136.70 83.95 L137.20 83.15 L137.70 82.36 L138.20 81.58 L138.70 80.80 L139.20 80.02 L139.70 79.25 L140.20 78.49 L140.70 77.74 L141.20 76.98 L141.70 76.24 L142.20 75.50 L142.70 74.77 L143.20 74.04 L143.70 73.32 L144.20 72.61 L144.70 71.90 L145.20 71.19 L145.70 70.50 L146.20 69.81 L146.70 69.12 L147.20 68.44 L147.70 67.77 L148.20 67.10 L148.70 66.44 L149.20 65.79 L149.70 65.14 L150.20 64.50 L150.70 63.87 L151.20 63.24 L151.70 62.61 L152.20 62.00 L152.70 61.39 L153.20 60.78 L153.70 60.18 L154.20 59.59 L154.70 59.01 L155.20 58.43 L155.70 57.85 L156.20 57.29 L156.70 56.72 L157.20 56.17 L157.70 55.62 L158.20 55.08 L158.70 54.54 L159.20 54.01 L159.70 53.48 L160.20 52.97 L160.70 52.45 L161.20 51.95 L161.70 51.45 L162.20 50.95 L162.70 50.46 L163.20 49.98 L163.70 49.50 L164.20 49.03 L164.70 48.56 L165.20 48.10 L165.70 47.65 L166.20 47.20 L166.70 46.76 L167.20 46.32 L167.70 45.89 L168.20 45.47 L168.70 45.05 L169.20 44.63 L169.70 44.22 L170.20 43.82 L170.70 43.42 L171.20 43.03 L171.70 42.64 L172.20 42.26 L172.70 41.89 L173.20 41.51 L173.70 41.15 L174.20 40.79 L174.70 40.43 L175.20 40.08 L175.70 39.74 L176.20 39.40 L176.70 39.06 L177.20 38.73 L177.70 38.41 L178.20 38.09 L178.70 37.77 L179.20 37.46 L179.70 37.15 L180.20 36.85 L180.70 36.56 L181.20 36.26 L181.70 35.98 L182.20 35.69 L182.70 35.42 L183.20 35.14 L183.70 34.87 L184.20 34.61 L184.70 34.35 L185.20 34.09 L185.70 33.84 L186.20 33.59 L186.70 33.35 L187.20 33.11 L187.70 32.87 L188.20 32.64 L188.70 32.41 L189.20 32.19 L189.70 31.97 L190.20 31.75 L190.70 31.54 L191.20 31.33 L191.70 31.13 L192.20 30.93 L192.70 30.73 L193.20 30.54 L193.70 30.34 L194.20 30.16 L194.70 29.97 L195.20 29.79 L195.70 29.62 L196.20 29.44 L196.70 29.27 L197.20 29.11 L197.70 28.94 L198.20 28.78 L198.70 28.63 L199.20 28.47 L199.70 28.32 L200.20 28.17 L200.70 28.03 L201.20 27.88 L201.70 27.74 L202.20 27.61 L202.70 27.47 L203.20 27.34 L203.70 27.21 L204.20 27.09 L204.70 26.96 L205.20 26.84 L205.70 26.72 L206.20 26.61 L206.70 26.49 L207.20 26.38 L207.70 26.27 L208.20 26.17 L208.70 26.06 L209.20 25.96 L209.70 25.86 L210.20 25.76 L210.70 25.67 L211.20 25.58 L211.70 25.48 L212.20 25.39 L212.70 25.31 L213.20 25.22 L213.70 25.14 L214.20 25.06 L214.70 24.98 L215.20 24.90 L215.70 24.82 L216.20 24.75 L216.70 24.68 L217.20 24.61 L217.70 24.54 L218.20 24.47 L218.70 24.40 L219.20 24.34 L219.70 24.28 L220.20 24.21 L220.70 24.15 L221.20 24.10 L221.70 24.04 L222.20 23.98 L222.70 23.93 L223.20 23.88 L223.70 23.82 L224.20 23.77 L224.70 23.72 L225.20 23.68 L225.70 23.63 L226.20 23.58 L226.70 23.54 L227.20 23.50 L227.70 23.45 L228.20 23.41 L228.70 23.37 L229.20 23.33 L229.70 23.30 L230.20 23.26 L230.70 23.22 L231.20 23.19 L231.70 23.15 L232.20 23.12 L232.70 23.09 L233.20 23.06 L233.70 23.03 L234.20 23.00 L234.70 22.97 L235.20 22.94 L235.70 22.91 L236.20 22.89 L236.70 22.86 L237.20 22.83 L237.70 22.81 L238.20 22.79 L238.70 22.76 L239.20 22.74 L239.70 22.72 L240.20 22.70 L240.70 22.68 L241.20 22.66 L241.70 22.64 L242.20 22.62 L242.70 22.60 L243.20 22.58 L243.70 22.57 L244.20 22.55 L244.70 22.53 L245.20 22.52 L245.70 22.50 L246.20 22.49 L246.70 22.47 L247.20 22.46 L247.70 22.44 L248.20 22.43 L248.70 22.42 L249.20 22.41 L249.70 22.39 L250.20 22.38 L250.70 22.37 L251.20 22.36 L251.70 22.35 L252.20 22.34 L252.70 22.33 L253.20 22.32 L253.70 22.31 L254.20 22.30 L254.70 22.29 L255.20 22.28 L255.70 22.28 L256.20 22.27 L256.70 22.26 L257.20 22.25 L257.70 22.25 L258.20 22.24 L258.70 22.23 L259.20 22.23 L259.70 22.22 L260.20 22.21 L260.70 22.21 L261.20 22.20 L261.70 22.20 L262.20 22.19 L262.70 22.19 L263.20 22.18 L263.70 22.18 L264.20 22.17 L264.70 22.17 L265.20 22.16 L265.70 22.16 L266.20 22.15 L266.70 22.15 L267.20 22.15 L267.70 22.14 L268.20 22.14 L268.70 22.14 L269.20 22.13 L269.70 22.13 L270.20 22.13 L270.70 22.12 L271.20 22.12 L271.70 22.12 L272.20 22.12 L272.70 22.11 L273.20 22.11 L273.70 22.11 L274.20 22.11 L274.70 22.10 L275.20 22.10 L275.70 22.10 L276.20 22.10 L276.70 22.10 L277.20 22.09 L277.70 22.09 L278.20 22.09 L278.70 22.09 L279.20 22.09 L279.70 22.09 L280.20 22.08 L280.70 22.08 L281.20 22.08 L281.70 22.08 L282.20 22.08 L282.70 22.08 L283.20 22.08 L283.70 22.08 L284.20 22.07 L284.70 22.07 L285.20 22.07 L285.70 22.07 L286.20 22.07 L286.70 22.07 L287.20 22.07 L287.70 22.07 L288.20 22.07 L288.70 22.07 L289.20 22.07 L289.70 22.07 L290.20 22.06 L290.70 22.06 L291.20 22.06 L291.70 22.06 L292.20 22.06 L292.70 22.06 L293.20 22.06 L293.70 22.06 L294.20 22.06 L294.70 22.06 L295.20 22.06 L295.70 22.06 L296.20 22.06 L296.70 22.06 L297.20 22.06 L297.70 22.06 L298.20 22.06 L298.70 22.06 L299.20 22.06 L299.70 22.06 L300.20 22.06 L300.70 22.06 L301.20 22.06 L301.70 22.06 L302.20 22.06 L302.70 22.05 L303.20 22.05 L303.70 22.05 L304.20 22.05 L304.70 22.05 L305.20 22.05 L305.70 22.05 L306.20 22.05 L306.70 22.05 L307.20 22.05 L307.70 22.05 L308.20 22.05 L308.70 22.05 L309.20 22.05 L309.70 22.05 L310.20 22.05 L310.70 22.05 L311.20 22.05 L311.70 22.05 L312.20 22.05 L312.70 22.05 L313.20 22.05 L313.70 22.05 L314.20 22.05 L314.70 22.05 L315.20 22.05 L315.70 22.05 L316.20 22.05 L316.70 22.05 L317.20 22.05 L317.70 22.05 L318.20 22.05 L318.70 22.05 L319.20 22.05 L319.70 22.05 L320.20 22.05 L320.70 22.05 L321.20 22.05 L321.70 22.05 L322.20 22.05 L322.70 22.05 L323.20 22.05 L323.70 22.05 L324.20 22.05 L324.70 22.05 L325.20 22.05 L325.70 22.05 L326.20 22.05 L326.70 22.05 L327.20 22.05 L327.70 22.05 L328.20 22.05 L328.70 22.05 L329.20 22.05 L329.70 22.05 L330.20 22.05 L330.70 22.05 L331.20 22.05 L331.70 22.05 L332.20 22.05 L332.70 22.05 L333.20 22.05 L333.70 22.05 L334.20 22.05 L334.70 22.05 L335.20 22.05 L335.70 22.05 L336.20 22.05 L336.70 22.05 L337.20 22.05 L337.70 22.05 L338.20 22.05 L338.70 22.05 L339.20 22.05 L339.70 22.05 L340.20 22.05 L340.70 22.05 L341.20 22.05 L341.70 22.05 L342.20 22.05 L342.70 22.05 L343.20 22.05 L343.70 22.05 L344.20 22.05 L344.70 22.05 L345.20 22.05 L345.70 22.05 L346.20 22.05 L346.70 22.05 L347.20 22.05 L347.70 22.05 L348.20 22.05 L348.70 22.05 L349.20 22.05 L349.70 22.05 L350.20 22.05 L350.70 22.05 L351.20 22.05 L351.70 22.05 L352.20 22.05 L352.70 22.05 L353.20 22.05 L353.70 22.05 L354.20 22.05 L354.70 22.05 L355.20 22.05 L355.70 22.05 L356.20 22.05 L356.70 22.05 L357.20 22.05 L357.70 22.05 L358.20 22.05 L358.70 22.05 L359.20 22.05 L359.70 22.05 L360.20 22.05 L360.70 22.05 L361.20 22.05 L361.70 22.05 L362.20 22.05 L362.70 22.05 L363.20 22.05 L363.70 22.05 L364.20 22.05 L364.70 22.05 L365.20 22.05 L365.70 22.05 L366.20 22.05 L366.70 22.05 L367.20 22.05 L367.70 22.05 L368.20 22.05 L368.70 22.05 L369.20 22.05 L369.70 22.05 L370.20 22.05 L370.70 22.05 L371.20 22.05 L371.70 22.05 L372.20 22.05 L372.70 22.05 L373.20 22.05 L373.70 22.05 L374.20 22.05 L374.70 22.05 L375.20 22.05 L375.70 22.05 L376.20 22.05 L376.70 22.05 L377.20 22.05 L377.70 22.05 L378.20 22.05 L378.70 22.05 L379.20 22.05 L379.70 22.05 L380.20 22.05 L380.70 22.05 L381.20 22.05 L381.70 22.05 L382.20 22.05 L382.70 22.05 L383.20 22.05 L383.70 22.05 L384.20 22.05 L384.70 22.05 L385.20 22.05 L385.70 22.05 L386.20 22.05 L386.70 22.05 L387.20 22.05 L387.70 22.05 L388.20 22.05 L388.70 22.05" stroke="#f00" stroke-width="2.25" fill="none" stroke-dasharray="6.35 2.5002" stroke-linejoin="round"/>
<text x="52.45" y="236.8" text-anchor="middle" style="font-family:'Liberation Sans',sans-serif;font-weight:bold;font-size:14.4px;fill:#000">0.0</text>
<text x="119.45" y="236.8" text-anchor="middle" style="font-family:'Liberation Sans',sans-serif;font-weight:bold;font-size:14.4px;fill:#000">0.2</text>
<text x="186.45" y="236.8" text-anchor="middle" style="font-family:'Liberation Sans',sans-serif;font-weight:bold;font-size:14.4px;fill:#000">0.4</text>
<text x="253.45" y="236.8" text-anchor="middle" style="font-family:'Liberation Sans',sans-serif;font-weight:bold;font-size:14.4px;fill:#000">0.6</text>
<text x="320.45" y="236.8" text-anchor="middle" style="font-family:'Liberation Sans',sans-serif;font-weight:bold;font-size:14.4px;fill:#000">0.8</text>
<text x="387.45" y="236.8" text-anchor="middle" style="font-family:'Liberation Sans',sans-serif;font-weight:bold;font-size:14.4px;fill:#000">1.0</text>
<text x="42.0" y="27.65" text-anchor="end" style="font-family:'Liberation Sans',sans-serif;font-weight:bold;font-size:14.4px;fill:#000">0</text>
<text x="42.0" y="74.60" text-anchor="end" style="font-family:'Liberation Sans',sans-serif;font-weight:bold;font-size:14.4px;fill:#000"><tspan letter-spacing="1.1">−</tspan>1</text>
<text x="42.0" y="121.50" text-anchor="end" style="font-family:'Liberation Sans',sans-serif;font-weight:bold;font-size:14.4px;fill:#000"><tspan letter-spacing="1.1">−</tspan>2</text>
<text x="42.0" y="168.80" text-anchor="end" style="font-family:'Liberation Sans',sans-serif;font-weight:bold;font-size:14.4px;fill:#000"><tspan letter-spacing="1.1">−</tspan>3</text>
<text x="42.0" y="216.30" text-anchor="end" style="font-family:'Liberation Sans',sans-serif;font-weight:bold;font-size:14.4px;fill:#000"><tspan letter-spacing="1.1">−</tspan>4</text>
<text x="212.3" y="261" style="font-family:'Liberation Sans',sans-serif;font-weight:bold;font-style:italic;font-size:14px">p</text>
<path d="M221.2 262.5 h5.6 M223.9 262.5 v-4.6" stroke="#000" stroke-width="1.2" fill="none"/>
<g transform="translate(15.1 162.9) rotate(-90)"><text x="0" y="0" style="font-family:'Liberation Sans',sans-serif;font-weight:bold;font-size:14px;fill:#000">xG</text><text x="18.3" y="3.2" style="font-family:'Liberation Sans',sans-serif;font-size:10.5px">22</text><text x="20.2" y="-6.3" style="font-family:'Liberation Sans',sans-serif;font-weight:bold;font-style:italic;font-size:10.5px">u</text><text x="30" y="0" style="font-family:'Liberation Sans',sans-serif;font-weight:bold;font-size:14px;fill:#000;letter-spacing:0.25px">[x,</text><text x="47.1" y="0" style="font-family:'Liberation Sans',sans-serif;font-weight:bold;font-size:14px;fill:#000;font-style:italic;font-size:14.5px">p</text><path d="M56.7 3.0 h5.4 M59.4 3.0 v-5.0" stroke="#000" stroke-width="1.15" fill="none"/><text x="61.9" y="0" style="font-family:'Liberation Sans',sans-serif;font-weight:bold;font-size:14px;fill:#000;letter-spacing:0.45px">,0.5,0]</text></g>
</svg></body></html>
